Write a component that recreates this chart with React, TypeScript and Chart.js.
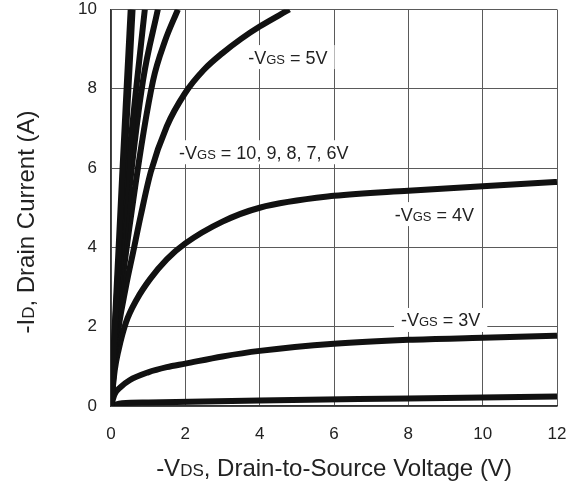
import React, { useEffect, useRef } from "react";
import { Chart, registerables } from "chart.js";

Chart.register(...registerables);

// ---- data ----
const xTicks = [0, 2, 4, 6, 8, 10, 12];
const yTicks = [0, 2, 4, 6, 8, 10];

const vgs10V = [0, 0.1, 0.3, 0.43, 0.53];
const vgs10I = [0, 2.0, 5.8, 8.2, 10];
const vgs9V = [0, 0.11, 0.34, 0.48, 0.58];
const vgs9I = [0, 2.0, 5.8, 8.2, 10];
const vgs8V = [0, 0.12, 0.42, 0.7, 0.91];
const vgs8I = [0, 1.9, 5.6, 8.2, 10];
const vgs7V = [0, 0.14, 0.5, 0.86, 1.26];
const vgs7I = [0, 1.9, 5.5, 8.2, 10];
const vgs6V = [0, 0.16, 0.6, 1.13, 1.45, 1.8];
const vgs6I = [0, 1.9, 5.2, 8.2, 9.2, 10];
const vgs5V = [0, 0.15, 0.4, 0.6, 0.8, 1.07, 1.5, 2, 2.5, 3, 3.5, 4, 4.8];
const vgs5I = [0, 1.6, 3.0, 3.9, 4.8, 5.9, 7.05, 7.9, 8.48, 8.9, 9.26, 9.57, 10];
const vgs4V = [0, 0.1, 0.2, 0.4, 0.7, 1.05, 1.5, 2, 3, 4, 6, 8, 10, 12];
const vgs4I = [0, 0.9, 1.4, 2.1, 2.7, 3.2, 3.7, 4.1, 4.65, 5.0, 5.3, 5.43, 5.54, 5.65];
const vgs3V = [0, 0.1, 0.25, 0.5, 1.0, 1.5, 2, 3, 4, 6, 8, 10, 12];
const vgs3I = [0, 0.3, 0.47, 0.65, 0.85, 0.98, 1.07, 1.25, 1.39, 1.57, 1.67, 1.72, 1.77];
const vgsLowV = [0, 0.3, 1, 4, 8, 12];
const vgsLowI = [0, 0.07, 0.09, 0.14, 0.19, 0.24];

const seriesV = [vgs10V, vgs9V, vgs8V, vgs7V, vgs6V, vgs5V, vgs4V, vgs3V, vgsLowV];
const seriesI = [vgs10I, vgs9I, vgs8I, vgs7I, vgs6I, vgs5I, vgs4I, vgs3I, vgsLowI];
const seriesNames = ["10V", "9V", "8V", "7V", "6V", "5V", "4V", "3V", "low"];

// curve labels: text pieces after "-V" + "GS", and the data point where each is centred
const labelTexts = [" = 5V", " = 10, 9, 8, 7, 6V", " = 4V", " = 3V"];
const labelAtV = [4.76, 4.11, 8.7, 8.87];
const labelAtI = [8.8, 6.4, 4.84, 2.17];

const FONT = '"Liberation Sans", Arial, Helvetica, sans-serif';
const TEXT = "#222";

type Seg = { t: string; s: number };

function richWidth(ctx: CanvasRenderingContext2D, segs: Seg[]) {
  let w = 0;
  for (const g of segs) {
    ctx.font = `${g.s}px ${FONT}`;
    w += ctx.measureText(g.t).width;
  }
  return w;
}

function drawRich(ctx: CanvasRenderingContext2D, segs: Seg[], cx: number, baseline: number) {
  const w = richWidth(ctx, segs);
  let x = cx - w / 2;
  ctx.textAlign = "left";
  ctx.textBaseline = "alphabetic";
  ctx.fillStyle = TEXT;
  for (const g of segs) {
    ctx.font = `${g.s}px ${FONT}`;
    ctx.fillText(g.t, x, baseline);
    x += ctx.measureText(g.t).width;
  }
}

const textPlugin = {
  id: "curveText",
  beforeDatasetsDraw(chart: any) {
    const { ctx, scales } = chart;
    ctx.save();
    for (let k = 0; k < labelTexts.length; k++) {
      const segs: Seg[] = [
        { t: "-V", s: 18 },
        { t: "GS", s: 13 },
        { t: labelTexts[k], s: 18 },
      ];
      const px = scales.x.getPixelForValue(labelAtV[k]);
      const py = scales.y.getPixelForValue(labelAtI[k]);
      const w = richWidth(ctx, segs);
      ctx.fillStyle = "#fff";
      ctx.fillRect(px - w / 2 - 7, py - 12, w + 14, 24);
      drawRich(ctx, segs, px, py + 6.5);
    }
    ctx.restore();
  },
  afterDraw(chart: any) {
    const { ctx, chartArea } = chart;
    ctx.save();
    const cx = (chartArea.left + chartArea.right) / 2;
    drawRich(
      ctx,
      [
        { t: "-V", s: 24 },
        { t: "DS", s: 17 },
        { t: ", Drain-to-Source Voltage (V)", s: 24 },
      ],
      cx,
      476
    );
    ctx.translate(34, 222);
    ctx.rotate(-Math.PI / 2);
    drawRich(
      ctx,
      [
        { t: "-I", s: 24 },
        { t: "D", s: 17 },
        { t: ", Drain Current (A)", s: 24 },
      ],
      0,
      0
    );
    ctx.restore();
  },
};

export default function App() {
  const ref = useRef<HTMLCanvasElement | null>(null);

  useEffect(() => {
    if (!ref.current) return;
    const datasets = seriesV.map((vs, k) => ({
      label: seriesNames[k],
      data: vs.map((v, j) => ({ x: v, y: seriesI[k][j] })),
      showLine: true,
      borderColor: "#111",
      backgroundColor: "#111",
      borderWidth: 6,
      pointRadius: 0,
      cubicInterpolationMode: "monotone" as const,
      borderCapStyle: "butt" as const,
      fill: false,
    }));
    const chart = new Chart(ref.current, {
      type: "scatter",
      data: { datasets },
      plugins: [textPlugin],
      options: {
        animation: false,
        responsive: true,
        maintainAspectRatio: false,
        layout: { padding: { top: 9.5, right: 12, left: 0, bottom: 0 } },
        plugins: {
          legend: { display: false },
          tooltip: { enabled: false },
        },
        scales: {
          x: {
            type: "linear",
            min: xTicks[0],
            max: xTicks[xTicks.length - 1],
            ticks: {
              stepSize: xTicks[1] - xTicks[0],
              color: TEXT,
              font: { family: FONT, size: 17 },
              padding: 18,
            },
            grid: { color: "#5a5a5a", lineWidth: 1, drawTicks: false },
            border: { color: "#333", width: 1.5 },
            afterFit: (s: any) => {
              s.height = 75;
              s.paddingLeft = 0;
              s.paddingRight = 0;
            },
          },
          y: {
            type: "linear",
            min: yTicks[0],
            max: yTicks[yTicks.length - 1],
            ticks: {
              stepSize: yTicks[1] - yTicks[0],
              color: TEXT,
              font: { family: FONT, size: 17 },
              padding: 14,
            },
            grid: { color: "#5a5a5a", lineWidth: 1, drawTicks: false },
            border: { color: "#333", width: 1.5 },
            afterFit: (s: any) => {
              s.width = 111;
              s.paddingTop = 0;
              s.paddingBottom = 0;
            },
          },
        },
      },
    });
    return () => chart.destroy();
  }, []);

  return (
    <div style={{ position: "absolute", left: 0, top: 0, width: 569, height: 481, background: "#fff" }}>
      <canvas ref={ref} />
    </div>
  );
}
